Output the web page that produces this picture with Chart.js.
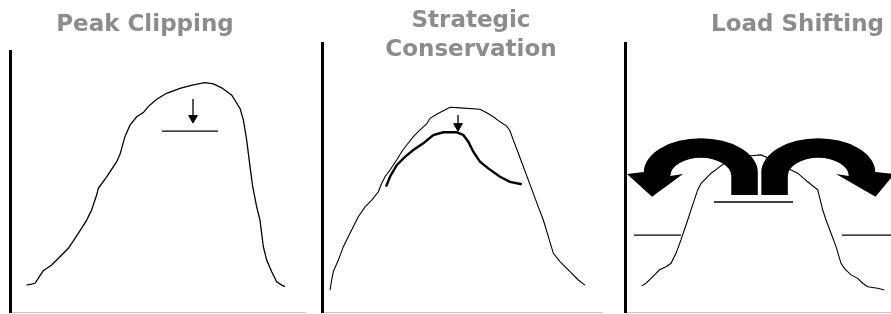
<!DOCTYPE html>
<html>
<head>
<meta charset="utf-8">
<script src="https://cdn.jsdelivr.net/npm/chart.js@4.4.1/dist/chart.umd.min.js"></script>
<style>
    html, body { margin: 0; padding: 0; background: #fff; overflow: hidden; }
    body { position: relative; width: 891px; height: 314px; }
    .panel { position: absolute; top: 0; }
</style>
</head>
<body>
<div class="panel" style="left:-16px"><canvas id="clip" width="322" height="314"></canvas></div>
<div class="panel" style="left:300px"><canvas id="cons" width="342" height="314"></canvas></div>
<div class="panel" style="left:610px"><canvas id="shift" width="375" height="314"></canvas></div>
<script>
// x = hour of day (0-24), y = load (% of axis height)

// Peak Clipping
const clipHours = [1.35, 2.03, 2.29, 2.70, 3.38, 4.05, 4.73, 5.27, 5.81, 6.22, 6.62, 7.03, 7.16, 7.84, 8.65, 8.92, 9.32, 9.73, 10.27, 10.81, 11.21, 11.89, 12.70, 13.78, 14.86, 15.81, 16.49, 17.16, 17.98, 18.65, 18.92, 19.19, 19.46, 19.68, 20.00, 20.27, 20.54, 20.81, 21.22, 21.62, 22.03, 22.30];
const clipLoad = [10.3, 11.0, 12.9, 15.8, 18.0, 21.2, 24.4, 28.2, 32.1, 35.2, 39.1, 44.9, 47.4, 51.8, 57.6, 60.4, 67.2, 71.6, 74.8, 76.4, 78.7, 81.5, 83.8, 85.7, 87.0, 87.9, 87.4, 85.9, 83.1, 78.0, 73.6, 65.9, 55.7, 48.0, 40.3, 35.2, 25.0, 19.9, 15.4, 11.6, 10.3, 9.7];
const clipLevelHours = [12.32, 16.86];
const clipLevelLoad = [69.3, 69.3];
const clipArrowHours = [14.84, 14.84];
const clipArrowLoad = [81.6, 74.3];

// Strategic Conservation
const consHours = [0.69, 0.83, 0.97, 1.40, 1.83, 2.40, 3.11, 3.69, 4.26, 4.83, 5.11, 5.40, 5.83, 6.40, 6.83, 7.26, 7.83, 8.40, 8.97, 9.26, 9.83, 10.40, 10.97, 11.83, 13.54, 14.12, 14.68, 15.26, 15.83, 16.11, 16.40, 16.83, 17.26, 17.68, 18.11, 18.54, 18.97, 19.40, 19.83, 20.40, 21.26, 21.97, 22.54];
const consLoad = [8.2, 11.9, 15.0, 19.3, 24.3, 29.3, 35.4, 39.1, 41.6, 44.7, 47.8, 50.3, 52.8, 56.5, 59.6, 62.1, 65.2, 67.7, 69.9, 72.0, 73.5, 74.8, 76.1, 75.9, 75.4, 74.1, 72.6, 70.7, 69.1, 67.4, 63.9, 59.0, 54.0, 49.1, 44.1, 39.1, 34.2, 28.0, 21.8, 18.7, 15.0, 11.9, 10.0];
const consNewHours = [5.49, 5.83, 6.40, 7.11, 7.83, 8.68, 9.54, 10.40, 11.55, 12.11, 12.54, 12.97, 13.54, 14.25, 15.26, 16.11, 17.12];
const consNewLoad = [46.6, 50.3, 54.6, 57.7, 60.2, 62.7, 65.8, 66.8, 66.8, 65.8, 63.3, 59.6, 55.9, 53.4, 50.3, 48.4, 47.5];
const consArrowHours = [11.66, 11.66];
const consArrowLoad = [73.2, 69.1];

// Load Shifting
const shiftHours = [1.51, 1.89, 2.35, 2.80, 3.09, 3.70, 4.15, 4.60, 5.05, 5.35, 5.66, 5.95, 6.25, 6.56, 6.86, 7.31, 7.76, 8.36, 8.96, 9.56, 10.47, 11.37, 12.27, 13.02, 13.78, 14.68, 15.58, 16.48, 17.39, 17.62, 17.84, 18.14, 18.59, 19.04, 19.49, 19.79, 20.39, 20.99, 21.45, 21.90, 22.80, 23.40];
const shiftLoad = [9.7, 10.7, 12.5, 14.4, 15.6, 16.8, 18.1, 21.8, 26.8, 30.5, 34.2, 37.9, 41.6, 45.4, 47.8, 49.7, 51.6, 53.4, 55.3, 56.8, 57.7, 58.1, 58.4, 57.1, 55.3, 53.4, 51.6, 48.4, 45.4, 41.6, 37.9, 34.2, 29.3, 24.3, 18.1, 16.2, 13.8, 12.5, 10.7, 9.4, 8.8, 8.2];
const morningHours = [0.81, 5.05];
const peakHours = [8.03, 15.16];
const eveningHours = [19.58, 24];
const offPeakLevel = 28.6;
const peakLevel = 40.9;
// curved arrows (peak -> off-peak), in hour / load units
const shiftArrows = [
    { cx: 6.84, cy: 52.0, rxOuter: 5.14, ryOuter: 12.6, cyInner: 50.6, rxInner: 2.75, ryInner: 6.7, footY: 43.5, headY: 51.3, headInner: 5.23, headOuter: 0.18, tipX: 2.44, tipY: 42.8 },
    { cx: 17.44, cy: 52.0, rxOuter: 5.14, ryOuter: 12.6, cyInner: 50.6, rxInner: 2.75, ryInner: 6.7, footY: 43.5, headY: 51.3, headInner: 19.05, headOuter: 24.3, tipX: 22.6, tipY: 42.8 }
];

const zip = (xs, ys) => xs.map((x, i) => ({ x: x, y: ys[i] }));
const flat = (xs, v) => xs.map(x => ({ x: x, y: v }));

function lineSet(data, width) {
    return { data: data, borderColor: '#000', borderWidth: width || 1.3, pointRadius: 0, tension: 0, fill: false };
}
function arrowSet(data) {
    return {
        data: data, borderColor: '#000', borderWidth: 1.3, tension: 0,
        pointRadius: [0, 5], pointStyle: 'triangle', pointRotation: 180,
        pointBackgroundColor: '#000', pointBorderColor: '#000', pointBorderWidth: 1
    };
}

function panelOptions(title, lineHeight, padTop, padBottom, leftGap, rightGap) {
    return {
        responsive: false,
        animation: false,
        events: [],
        layout: { autoPadding: false, padding: { bottom: 2 } },
        plugins: {
            legend: { display: false },
            tooltip: { enabled: false },
            title: {
                display: true,
                text: title,
                color: '#8c8c8c',
                font: { family: 'DejaVu Sans', size: 23, weight: 'bold', lineHeight: lineHeight },
                padding: { top: padTop, bottom: padBottom }
            }
        },
        scales: {
            x: {
                type: 'linear', min: 0, max: 24,
                ticks: { display: false }, grid: { display: false, drawTicks: false },
                border: { color: '#c8c8c8', width: 1 }
            },
            y: {
                min: 0, max: 100,
                ticks: { display: false }, grid: { display: false, drawTicks: false },
                border: { color: '#000', width: 3 },
                afterFit: function (s) { s.width = leftGap; }
            },
            gap: {
                position: 'right', display: true,
                ticks: { display: false }, grid: { display: false, drawTicks: false }, border: { display: false },
                afterFit: function (s) { s.width = rightGap; }
            }
        }
    };
}

// 곡선 화살표 (Load Shifting)
const curvedArrows = {
    id: 'curvedArrows',
    afterDatasetsDraw(chart) {
        const ctx = chart.ctx, xs = chart.scales.x, ys = chart.scales.y;
        const px = v => xs.getPixelForValue(v), py = v => ys.getPixelForValue(v);
        ctx.save();
        ctx.fillStyle = '#000';
        shiftArrows.forEach(a => {
            const cx = px(a.cx), cy = py(a.cy), cyI = py(a.cyInner);
            const rxO = Math.abs(px(a.cx + a.rxOuter) - cx), ryO = Math.abs(py(a.cy + a.ryOuter) - cy);
            const rxI = Math.abs(px(a.cx + a.rxInner) - cx), ryI = Math.abs(py(a.cyInner + a.ryInner) - cyI);
            const s = a.tipX < a.cx ? -1 : 1;
            ctx.beginPath();
            ctx.moveTo(cx - s * rxI, py(a.footY));
            ctx.lineTo(cx - s * rxI, cyI);
            if (s < 0) ctx.ellipse(cx, cyI, rxI, ryI, 0, 0, -Math.PI, true);
            else ctx.ellipse(cx, cyI, rxI, ryI, 0, Math.PI, 2 * Math.PI, false);
            ctx.lineTo(px(a.headInner), py(a.headY));
            ctx.lineTo(px(a.tipX), py(a.tipY));
            ctx.lineTo(px(a.headOuter), py(a.headY));
            ctx.lineTo(cx + s * rxO, cy);
            if (s < 0) ctx.ellipse(cx, cy, rxO, ryO, 0, Math.PI, 2 * Math.PI, false);
            else ctx.ellipse(cx, cy, rxO, ryO, 0, 0, -Math.PI, true);
            ctx.lineTo(cx - s * rxO, py(a.footY));
            ctx.closePath();
            ctx.fill();
        });
        ctx.restore();
    }
};

new Chart(document.getElementById('clip'), {
    type: 'line',
    data: {
        datasets: [
            lineSet(zip(clipHours, clipLoad)),
            lineSet(zip(clipLevelHours, clipLevelLoad)),
            arrowSet(zip(clipArrowHours, clipArrowLoad))
        ]
    },
    options: panelOptions('Peak Clipping', 1.2, 11.7, 11.7, 26, 0)
});

new Chart(document.getElementById('cons'), {
    type: 'line',
    data: {
        datasets: [
            lineSet(zip(consHours, consLoad), 1.1),
            lineSet(zip(consNewHours, consNewLoad), 2.4),
            arrowSet(zip(consArrowHours, consArrowLoad))
        ]
    },
    options: panelOptions(['Strategic', 'Conservation'], 1.283, 6.25, -22.25, 22, 40)
});

new Chart(document.getElementById('shift'), {
    type: 'line',
    data: {
        datasets: [
            lineSet(zip(shiftHours, shiftLoad), 1.1),
            lineSet(flat(morningHours, offPeakLevel)),
            lineSet(flat(peakHours, peakLevel)),
            lineSet(flat(eveningHours, offPeakLevel))
        ]
    },
    options: panelOptions('Load Shifting', 1.2, 11.7, 3.7, 15, 94),
    plugins: [curvedArrows]
});
</script>
</body>
</html>
